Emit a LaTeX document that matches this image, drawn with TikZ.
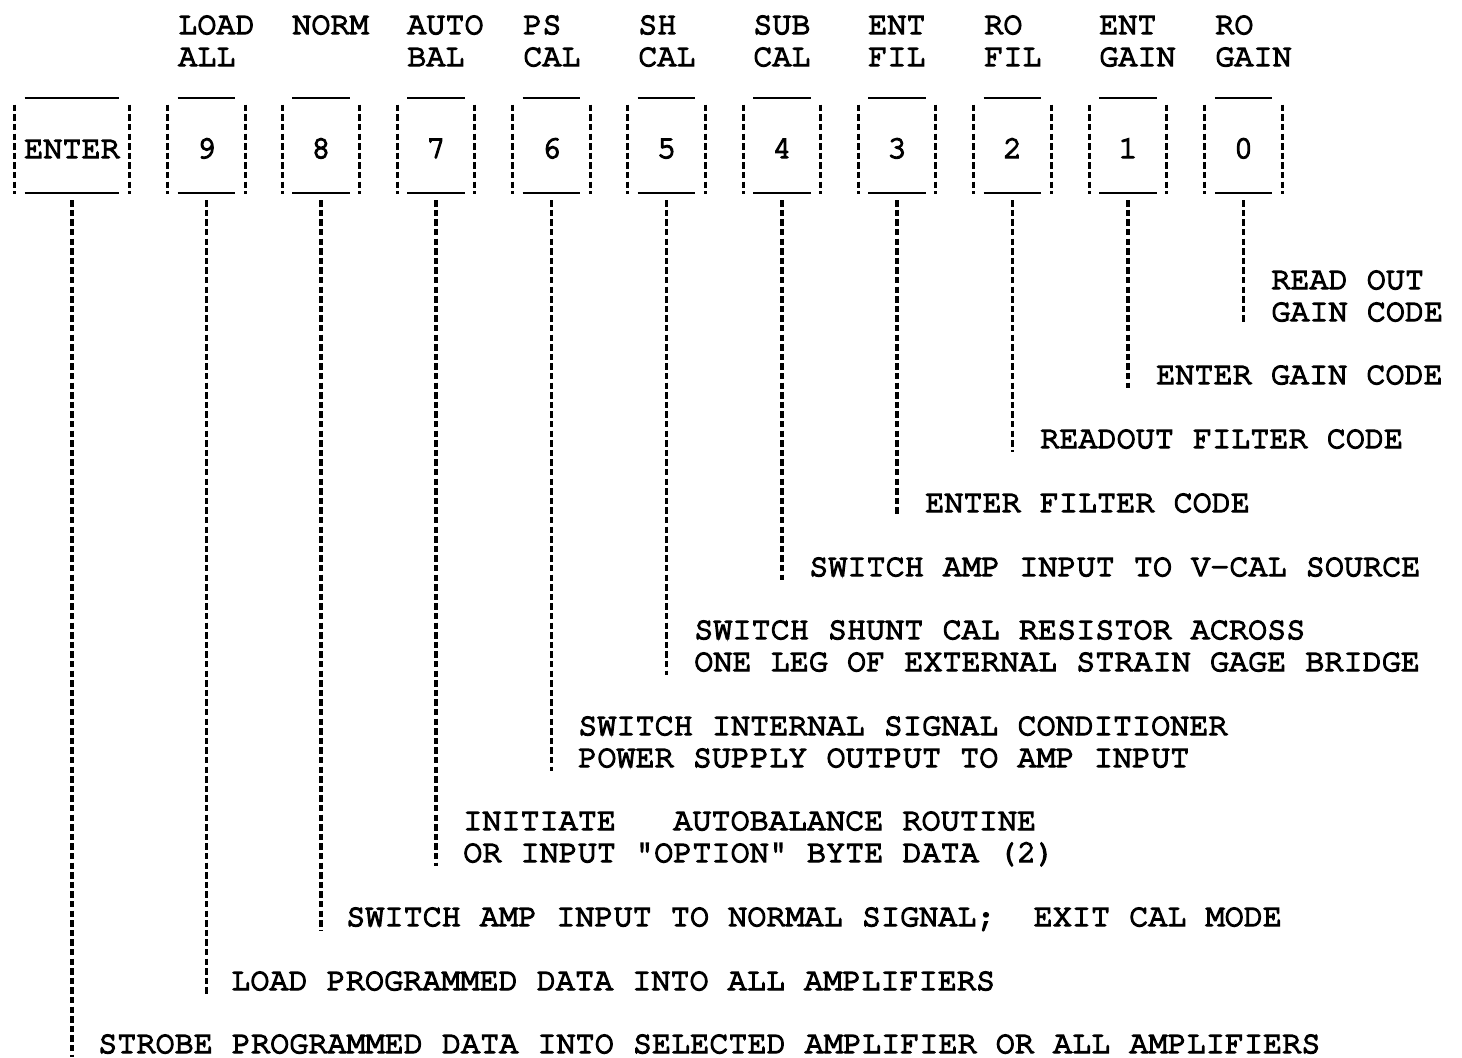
\documentclass[tikz,border=0pt]{standalone}
\usepackage{fontspec}
\usetikzlibrary{calc}
\newfontfamily\pf{TeX Gyre Cursor}[FakeBold=4.5]
\newcommand{\pfsize}{\fontsize{23.87pt}{23.9pt}\pf}
\begin{document}
\begin{tikzpicture}[x=0.75pt,y=-0.75pt,
  lbl/.style={anchor=base west,inner sep=0pt,font=\pfsize,text depth=0pt},
  keybox/.style={inner sep=0pt,minimum height=72pt,minimum width=57.75pt,font=\pfsize,text height=18pt,text depth=0pt},
  widekey/.style={keybox,minimum width=85.5pt},
  solidln/.style={line width=1.4pt},
  dashln/.style={line width=2.4pt,dash pattern=on 4.8pt off 2.4pt},
]
\path[use as bounding box,fill=white] (0,0) rectangle (1462,1057);

% keys
\node[widekey] (kE) at (72,146) {ENTER};
\node[keybox] (k9) at (206.5,146) {9};
\node[keybox] (k8) at (321,146) {8};
\node[keybox] (k7) at (436,146) {7};
\node[keybox] (k6) at (551.5,146) {6};
\node[keybox] (k5) at (666.5,146) {5};
\node[keybox] (k4) at (782,146) {4};
\node[keybox] (k3) at (897,146) {3};
\node[keybox] (k2) at (1012.5,146) {2};
\node[keybox] (k1) at (1128,146) {1};
\node[keybox] (k0) at (1243.5,146) {0};

\foreach \k in {kE,k9,k8,k7,k6,k5,k4,k3,k2,k1,k0}{
  \draw[solidln] ([xshift=7.5pt]\k.north west) -- ([xshift=-7.5pt]\k.north east);
  \draw[solidln] ([xshift=7.5pt,yshift=0.75pt]\k.south west) -- ([xshift=-7.5pt,yshift=0.75pt]\k.south east);
  \draw[dashln] ([yshift=-5.25pt]\k.north west) -- (\k.south west);
  \draw[dashln] ([yshift=-5.25pt]\k.north east) -- (\k.south east);
}

% top labels
\node[lbl] (t9a) at (178,34) {LOAD};
\node[lbl] (t9b) at (178,66) {ALL};
\node[lbl] (t8)  at (292,34) {NORM};
\node[lbl] (t7a) at (407,34) {AUTO};
\node[lbl] (t7b) at (407,66) {BAL};
\node[lbl] (t6a) at (523,34) {PS};
\node[lbl] (t6b) at (523,66) {CAL};
\node[lbl] (t5a) at (638,34) {SH};
\node[lbl] (t5b) at (638,66) {CAL};
\node[lbl] (t4a) at (753,34) {SUB};
\node[lbl] (t4b) at (753,66) {CAL};
\node[lbl] (t3a) at (868,34) {ENT};
\node[lbl] (t3b) at (868,66) {FIL};
\node[lbl] (t2a) at (984,34) {RO};
\node[lbl] (t2b) at (984,66) {FIL};
\node[lbl] (t1a) at (1099,34) {ENT};
\node[lbl] (t1b) at (1099,66) {GAIN};
\node[lbl] (t0a) at (1215,34) {RO};
\node[lbl] (t0b) at (1215,66) {GAIN};

% descriptions
\node[lbl] (d0a) at (1271,289) {READ OUT};
\node[lbl] (d0b) at (1271,321) {GAIN CODE};
\node[lbl] (d1)  at (1156,384) {ENTER GAIN CODE};
\node[lbl] (d2)  at (1040,448) {READOUT FILTER CODE};
\node[lbl] (d3)  at (925,512) {ENTER FILTER CODE};
\node[lbl] (d4)  at (809,576) {SWITCH AMP INPUT TO V-CAL SOURCE};
\node[lbl] (d5a) at (694,639) {SWITCH SHUNT CAL RESISTOR ACROSS};
\node[lbl] (d5b) at (694,671) {ONE LEG OF EXTERNAL STRAIN GAGE BRIDGE};
\node[lbl] (d6a) at (578,735) {SWITCH INTERNAL SIGNAL CONDITIONER};
\node[lbl] (d6b) at (578,767) {POWER SUPPLY OUTPUT TO AMP INPUT};
\node[lbl] (d7a) at (463,830) {INITIATE\ \ \ AUTOBALANCE ROUTINE};
\node[lbl] (d7b) at (463,862) {OR INPUT "OPTION" BYTE DATA (2)};
\node[lbl] (d8)  at (346,926) {SWITCH AMP INPUT TO NORMAL SIGNAL;\ \ EXIT CAL MODE};
\node[lbl] (d9)  at (231,990) {LOAD PROGRAMMED DATA INTO ALL AMPLIFIERS};
\node[lbl] (dE)  at (98,1053) {STROBE PROGRAMMED DATA INTO SELECTED AMPLIFIER OR ALL AMPLIFIERS};

% connectors
\foreach \k/\d in {k0/d0b,k1/d1,k2/d2,k3/d3,k4/d4,k5/d5b,k6/d6b,k7/d7b,k8/d8,k9/d9}{
  \draw[dashln] ($(\k.south)+(0,6)$) -- ($(\k.south |- \d.base)+(0,4)$);
}
\draw[dashln] ($(kE.south)+(0,6)$) -- ($(kE.south |- dE.base)+(0,4)$);
\end{tikzpicture}
\end{document}
